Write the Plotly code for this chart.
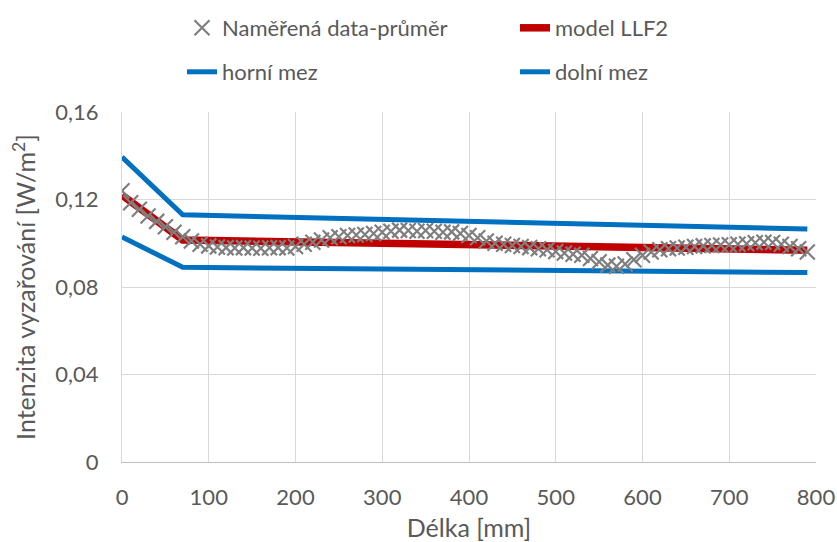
import plotly.graph_objects as go

# Measured mean irradiance along the length
delka = list(range(0, 800, 10))
namerena = [
    0.1240, 0.1185, 0.1155, 0.1125, 0.1100, 0.1075, 0.1050, 0.1030, 0.1010, 0.0995,
    0.0988, 0.0983, 0.0980, 0.0978, 0.0980, 0.0978, 0.0977, 0.0979, 0.0980, 0.0978,
    0.0985, 0.0995, 0.1005, 0.1015, 0.1025, 0.1030, 0.1035, 0.1038, 0.1040, 0.1045,
    0.1050, 0.1055, 0.1060, 0.1058, 0.1055, 0.1058, 0.1055, 0.1050, 0.1052, 0.1045,
    0.1035, 0.1025, 0.1010, 0.1000, 0.0995, 0.0990, 0.0985, 0.0980, 0.0975, 0.0970,
    0.0962, 0.0955, 0.0950, 0.0945, 0.0930, 0.0915, 0.0900, 0.0895, 0.0905, 0.0925,
    0.0945, 0.0960, 0.0970, 0.0975, 0.0978, 0.0982, 0.0985, 0.0988, 0.0990, 0.0992,
    0.0993, 0.0995, 0.0998, 0.1002, 0.1005, 0.1003, 0.0995, 0.0985, 0.0975, 0.0960,
]

# Model and bounds (piecewise linear)
model_x = [0, 70, 790]
model_llf2 = [0.1220, 0.1015, 0.0968]
horni_mez = [0.1394, 0.1130, 0.1065]
dolni_mez = [0.1029, 0.0890, 0.0866]

x_ticks = [0, 100, 200, 300, 400, 500, 600, 700, 800]
y_ticks = [0, 0.04, 0.08, 0.12, 0.16]
y_ticktext = ["0", "0,04", "0,08", "0,12", "0,16"]

FONT = "Lato"
TXT = "#595959"
BLUE = "#0070C0"
RED = "#C00000"
GRAY = "#7F7F7F"
W, H = 837, 542

fig = go.Figure()
fig.add_trace(go.Scatter(x=model_x, y=horni_mez, mode="lines", name="horní mez",
                         line=dict(color=BLUE, width=5), legend="legend3"))
fig.add_trace(go.Scatter(x=model_x, y=dolni_mez, mode="lines", name="dolní mez",
                         line=dict(color=BLUE, width=5), legend="legend4"))
fig.add_trace(go.Scatter(x=model_x, y=model_llf2, mode="lines", name="model LLF2",
                         line=dict(color=RED, width=7.5), legend="legend2"))
fig.add_trace(go.Scatter(x=delka, y=namerena, mode="markers", name="Naměřená data-průměr",
                         marker=dict(symbol="x-thin-open", size=15, color=GRAY,
                                     line=dict(color=GRAY, width=2.2)),
                         legend="legend"))


def legend_box(px, py):
    # one legend entry placed at pixel position (px = left edge, py = row centre)
    return dict(orientation="h", xref="container", yref="container",
                x=px / W, y=1 - py / H, xanchor="left", yanchor="middle",
                bgcolor="rgba(0,0,0,0)", borderwidth=0,
                font=dict(family=FONT, size=22, color=TXT))


fig.update_layout(
    width=W, height=H,
    margin=dict(l=122, r=21, t=112, b=80, autoexpand=False),
    paper_bgcolor="white", plot_bgcolor="white",
    font=dict(family=FONT, size=22, color=TXT),
    separators=", ",
    showlegend=True,
    legend=legend_box(182, 28),
    legend2=legend_box(515, 28),
    legend3=legend_box(182, 72),
    legend4=legend_box(515, 72),
    xaxis=dict(range=[0, 800], tickvals=x_ticks, showgrid=True, gridcolor="#D9D9D9",
               gridwidth=1, zeroline=False, showline=True, linecolor="#BFBFBF",
               linewidth=1, ticks="", ticklabelstandoff=16, automargin=False,
               tickfont=dict(family=FONT, size=22, color=TXT),
               title=dict(text="Délka [mm]", font=dict(family=FONT, size=25, color=TXT),
                          standoff=11)),
    yaxis=dict(range=[0, 0.16], tickvals=y_ticks, ticktext=y_ticktext, showgrid=True,
               gridcolor="#D9D9D9", gridwidth=1, zeroline=False, showline=True,
               linecolor="#D9D9D9", linewidth=1, ticks="", ticklabelstandoff=18,
               automargin=False,
               tickfont=dict(family=FONT, size=22, color=TXT),
               title=dict(text="Intenzita vyzařování [W/m<sup>2</sup>]",
                          font=dict(family=FONT, size=25, color=TXT), standoff=12)),
)

fig.write_html("out.html")
